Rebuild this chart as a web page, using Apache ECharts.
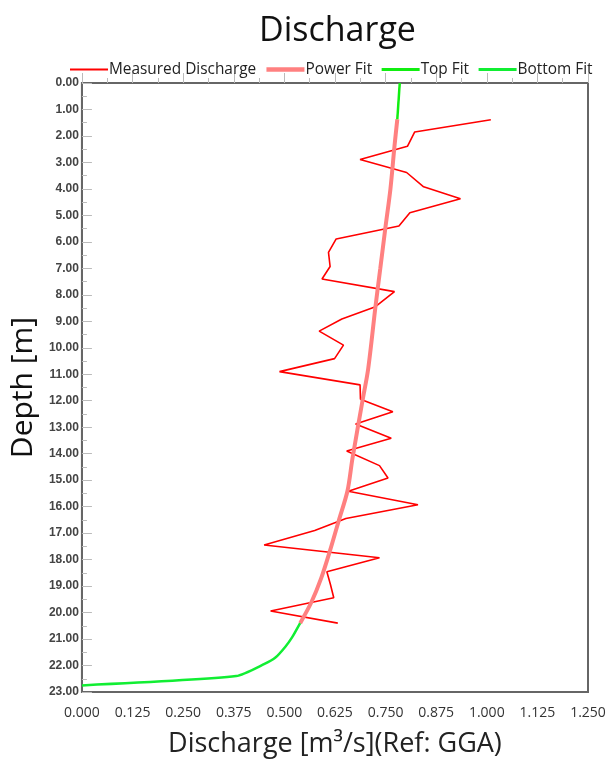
<!DOCTYPE html>
<html>
<head>
<meta charset="utf-8">
<script src="https://cdn.jsdelivr.net/npm/echarts@6/dist/echarts.min.js"></script>
<style>
html,body{margin:0;padding:0;background:#fff;}
#chart{width:609px;height:763px;}
</style>
</head>
<body>
<div id="chart"></div>
<script>
// Measured discharge (m3/s) vs depth (m)
const measuredDepth = [1.39,1.85,2.39,2.89,3.38,3.92,4.37,4.90,5.40,5.89,6.40,6.93,7.40,7.88,8.45,8.91,9.37,9.90,10.41,10.90,11.40,11.94,12.42,12.88,13.42,13.90,14.45,14.92,15.42,15.93,16.45,16.90,17.45,17.93,18.46,18.95,19.44,19.94,20.40];
const measuredQ     = [1.010,0.822,0.804,0.687,0.802,0.844,0.935,0.810,0.783,0.628,0.609,0.613,0.593,0.772,0.725,0.642,0.586,0.646,0.624,0.488,0.687,0.688,0.768,0.676,0.764,0.654,0.735,0.756,0.658,0.830,0.652,0.575,0.450,0.735,0.605,0.614,0.622,0.466,0.632];

const powerFitDepth = [1.37,2.39,4.0,5.53,7.0,8.45,10.8,12.0,14.2,15.4,16.55,17.7,18.7,19.6,20.4];
const powerFitQ     = [0.779,0.772,0.762,0.749,0.737,0.725,0.707,0.693,0.668,0.656,0.634,0.612,0.591,0.567,0.539];

const topFitDepth = [0.0,1.37];
const topFitQ     = [0.785,0.779];

const bottomFitDepth = [20.4,20.94,21.3,21.7,21.94,22.4,22.75];
const bottomFitQ     = [0.539,0.519,0.502,0.478,0.451,0.381,0.0];

const xTicks = {min:0, max:1.25, interval:0.125};
const yTicks = {min:0, max:23, interval:1};

function pairs(q, d){ return q.map((v,i)=>[v, d[i]]); }

const chart = echarts.init(document.getElementById('chart'), null, {renderer:'canvas'});
chart.setOption({
  backgroundColor:'#ffffff',
  animation:false,
  title:{
    text:'Discharge', left:254, top:9,
    textStyle:{fontFamily:'Open Sans', fontSize:34, fontWeight:'normal', color:'#111'}
  },
  legend:{
    left:64, top:57, width:560, itemWidth:38, itemHeight:10, itemGap:8,
    itemStyle:{opacity:0},
    textStyle:{fontFamily:'Open Sans', fontSize:15.4, color:'#222', padding:[0,0,0,-4]},
    data:[
      {name:'Measured Discharge', lineStyle:{width:2}},
      {name:'Power Fit', lineStyle:{width:4.5}},
      {name:'Top Fit', lineStyle:{width:3}},
      {name:'Bottom Fit', lineStyle:{width:3}}
    ]
  },
  grid:{left:73, right:21, top:83, bottom:68, show:true, borderColor:'#666', borderWidth:2, backgroundColor:'#fff'},
  xAxis:{
    type:'value', min:xTicks.min, max:xTicks.max, interval:xTicks.interval,
    name:'Discharge [m³/s](Ref: GGA)', nameLocation:'middle', nameGap:39,
    nameTextStyle:{fontFamily:'Open Sans', fontSize:27, color:'#222'},
    axisLine:{show:true, lineStyle:{color:'#666', width:2}},
    axisTick:{show:true, inside:true, length:10, lineStyle:{color:'#bbb'}},
    minorTick:{show:true, splitNumber:2, length:5, lineStyle:{color:'#bbb'}},
    splitLine:{show:false},
    axisLabel:{fontFamily:'Open Sans', fontSize:14, color:'#333', margin:14,
      formatter:v=>v.toFixed(3)}
  },
  yAxis:{
    type:'value', inverse:true, min:yTicks.min, max:yTicks.max, interval:yTicks.interval,
    name:'Depth [m]', nameLocation:'middle', nameGap:32, nameRotate:90,
    nameTextStyle:{fontFamily:'Open Sans', fontSize:30, color:'#111'},
    axisLine:{show:true, lineStyle:{color:'#666', width:2}},
    axisTick:{show:true, inside:true, length:10, lineStyle:{color:'#bbb'}},
    minorTick:{show:true, splitNumber:2, length:5, lineStyle:{color:'#bbb'}},
    splitLine:{show:false},
    axisLabel:{fontFamily:'Liberation Sans', fontSize:12, fontWeight:'bold', color:'#444', margin:3,
      formatter:v=>v.toFixed(2)}
  },
  series:[
    {name:'Measured Discharge', type:'line', data:pairs(measuredQ, measuredDepth), symbol:'none',
     lineStyle:{color:'#ff0000', width:1.6}, itemStyle:{color:'#ff0000'}, z:2},
    {name:'Power Fit', type:'line', data:pairs(powerFitQ, powerFitDepth), symbol:'none', smooth:0.3,
     lineStyle:{color:'#ff8080', width:4}, itemStyle:{color:'#ff8080'}, z:3},
    {name:'Top Fit', type:'line', data:pairs(topFitQ, topFitDepth), symbol:'none',
     lineStyle:{color:'#11ee11', width:2.5}, itemStyle:{color:'#11ee11'}, z:3},
    {name:'Bottom Fit', type:'line', data:pairs(bottomFitQ, bottomFitDepth), symbol:'none', smooth:0.2,
     lineStyle:{color:'#11ee33', width:2.5}, itemStyle:{color:'#11ee33'}, z:3}
  ]
});
</script>
</body>
</html>
